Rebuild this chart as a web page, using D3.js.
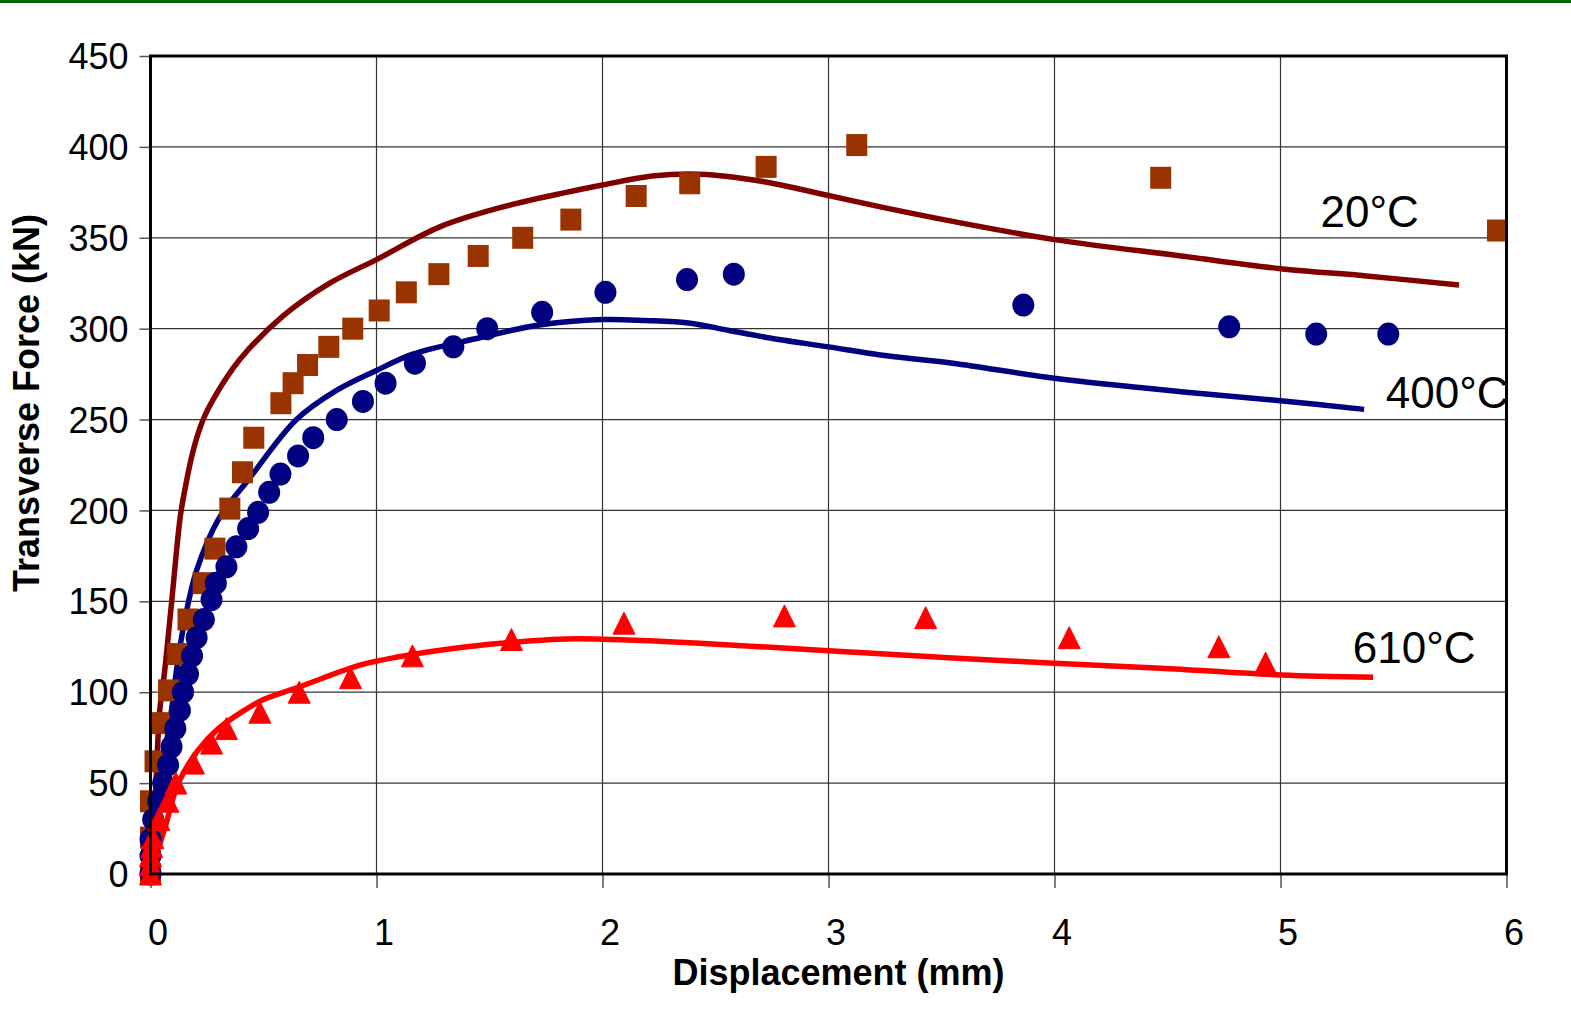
<!DOCTYPE html>
<html>
<head>
<meta charset="utf-8">
<script src="https://cdn.jsdelivr.net/npm/d3@7/dist/d3.min.js"></script>
<style>
  html, body { margin: 0; padding: 0; background: #fff; }
  svg { display: block; font-family: "Liberation Sans", Arial, sans-serif; }
</style>
</head>
<body>
<svg id="chart" width="1571" height="1019"></svg>
<script>
// Axis ticks
const xTicks = [0, 1, 2, 3, 4, 5, 6];
const yTicks = [0, 50, 100, 150, 200, 250, 300, 350, 400, 450];

// Test results (markers)
const test20X  = [0, 0, 0, 0.02, 0.04, 0.08, 0.12, 0.166, 0.233, 0.285, 0.351, 0.407, 0.457, 0.577, 0.631, 0.695, 0.789, 0.895, 1.012, 1.132, 1.276, 1.45, 1.647, 1.86, 2.149, 2.386, 2.724, 3.125, 4.47, 5.96];
const test20Y  = [0, 20, 40, 62, 83, 101, 121, 140, 160, 179, 201, 221, 240, 259, 270, 280, 290, 300, 310, 320, 330, 340, 350, 360, 373, 380, 389, 401, 383, 354];

const test400X = [0, 0, 0, 0.012, 0.034, 0.056, 0.078, 0.093, 0.11, 0.13, 0.144, 0.166, 0.184, 0.204, 0.236, 0.27, 0.289, 0.336, 0.38, 0.432, 0.476, 0.525, 0.575, 0.653, 0.72, 0.824, 0.94, 1.04, 1.17, 1.34, 1.49, 1.733, 2.013, 2.374, 2.581, 3.862, 4.773, 5.158, 5.477];
const test400Y = [0, 10, 19, 30, 40, 50, 60, 70, 80, 90, 100, 110, 120, 130, 140, 151, 160, 169, 180, 190, 199, 210, 220, 230, 240, 250, 260, 270, 281, 290, 300, 309, 320, 327, 330, 313, 301, 297, 297];

const test610X = [0, 0, 0, 0.005, 0.01, 0.037, 0.077, 0.112, 0.19, 0.27, 0.336, 0.484, 0.658, 0.885, 1.159, 1.597, 2.095, 2.805, 3.43, 4.065, 4.727, 4.934];
const test610Y = [0, 5, 10, 15, 20, 30, 40, 50, 61, 72, 80, 89, 100, 108, 120, 129, 138, 142, 141, 130, 125, 116];

// Model curves (lines)
const model20X  = [0, 0.02, 0.041, 0.063, 0.093, 0.13, 0.144, 0.189, 0.233, 0.277, 0.395, 0.587, 0.793, 1.0, 1.28, 1.56, 1.84, 2.0, 2.22, 2.43, 2.71, 2.99, 3.23, 3.55, 4.0, 4.56, 5.0, 5.38, 5.79];
const model20Y  = [0, 40, 90, 112, 149, 195, 206, 233, 250, 261, 283, 307, 325, 338, 356, 367, 375, 379, 384, 385, 381, 373.5, 367, 359, 349, 340, 333, 329, 324];

const model400X = [0, 0.03, 0.093, 0.115, 0.152, 0.204, 0.3, 0.44, 0.646, 0.823, 1.0, 1.16, 1.457, 1.72, 2.0, 2.19, 2.39, 2.56, 2.78, 3.0, 3.23, 3.55, 4.0, 4.56, 5.0, 5.37];
const model400Y = [0, 40, 90, 112, 140, 167, 195, 218, 250, 266, 277, 286, 295, 302, 305, 304.5, 303, 299, 294, 290, 285.5, 281, 272.7, 265.3, 260.4, 255.6];

const model610X = [0, 0.065, 0.123, 0.21, 0.30, 0.415, 0.50, 0.66, 0.93, 1.10, 1.40, 1.69, 1.84, 2.0, 2.21, 2.43, 3.0, 3.57, 4.0, 4.47, 5.0, 5.41];
const model610Y = [0, 26, 50, 68, 80, 90, 96, 103, 115, 119.5, 125, 128.3, 129.3, 129.2, 128.3, 127, 122.8, 118.7, 116, 113.2, 109.5, 108.2];

// Temperature labels and where they sit (data units)
const tempLabels = ["20°C", "400°C", "610°C"];
const tempLabelX = [5.177, 5.466, 5.32];
const tempLabelY = [355.8, 256.2, 115.9];

const xTitle = "Displacement (mm)";
const yTitle = "Transverse Force (kN)";

const zip = (xs, ys) => xs.map((x, i) => [x, ys[i]]);

const svg = d3.select("#chart");
const W = 1571, H = 1019;
const plot = { left: 150.5, right: 1506.5, top: 56, bottom: 874 };

const x = d3.scaleLinear().domain([0, 6]).range([plot.left, plot.right]);
const y = d3.scaleLinear().domain([0, 450]).range([plot.bottom, plot.top]);

// Green rule across the top of the page
svg.append("rect").attr("x", 0).attr("y", 0).attr("width", W).attr("height", 3).attr("fill", "#006400");

// Gridlines
const grid = svg.append("g");
grid.selectAll("line.h").data(yTicks).join("line")
  .attr("x1", plot.left).attr("x2", plot.right)
  .attr("y1", d => y(d)).attr("y2", d => y(d))
  .attr("stroke", "#333").attr("stroke-width", 1.2);
grid.selectAll("line.v").data(xTicks).join("line")
  .attr("y1", plot.top).attr("y2", plot.bottom)
  .attr("x1", d => x(d)).attr("x2", d => x(d))
  .attr("stroke", "#333").attr("stroke-width", 1.2);

// Axes
const yAxis = d3.axisLeft(y).tickValues(yTicks).tickSize(11).tickPadding(10).tickFormat(d3.format("d"));
const xAxis = d3.axisBottom(x).tickValues(xTicks).tickSize(14).tickPadding(0).tickFormat(d3.format("d"));

const gy = svg.append("g").attr("transform", `translate(${plot.left},0)`).call(yAxis);
gy.select(".domain").remove();
gy.selectAll(".tick line").attr("stroke", "#555").attr("stroke-width", 1.5);
gy.selectAll(".tick text")
  .attr("font-size", 36).attr("fill", "#000")
  .attr("font-family", "'Liberation Sans', Arial, sans-serif")
  .attr("dy", "0.35em").attr("x", -22);

const gx = svg.append("g").attr("transform", `translate(0,${plot.bottom})`).call(xAxis);
gx.select(".domain").remove();
gx.selectAll(".tick line").attr("stroke", "#555").attr("stroke-width", 1.5);
gx.selectAll(".tick text")
  .attr("font-size", 36).attr("fill", "#000")
  .attr("font-family", "'Liberation Sans', Arial, sans-serif")
  .attr("y", 71).attr("dy", 0).attr("x", 7);

// Model curves
const line = d3.line().x(d => x(d[0])).y(d => y(d[1])).curve(d3.curveCatmullRom.alpha(0.5));
const curves = [
  { pts: zip(model20X, model20Y), color: "#800000" },
  { pts: zip(model400X, model400Y), color: "#000080" },
  { pts: zip(model610X, model610Y), color: "#ff0000" }
];
svg.append("g").selectAll("path").data(curves).join("path")
  .attr("d", d => line(d.pts))
  .attr("fill", "none")
  .attr("stroke", d => d.color)
  .attr("stroke-width", 5.5)
  .attr("stroke-linejoin", "round");

// Test markers: squares (20°C), circles (400°C), triangles (610°C)
const sq = 21;
svg.append("g").selectAll("rect").data(zip(test20X, test20Y)).join("rect")
  .attr("x", d => x(d[0]) - sq / 2).attr("y", d => y(d[1]) - sq / 2 - 0.5)
  .attr("width", sq).attr("height", sq + 1)
  .attr("fill", "#993300");

svg.append("g").selectAll("ellipse").data(zip(test400X, test400Y)).join("ellipse")
  .attr("cx", d => x(d[0])).attr("cy", d => y(d[1]))
  .attr("rx", 11).attr("ry", 11.5)
  .attr("fill", "#000080");

// Triangle marker, 22 wide by 22 tall, centred on its box
const triPath = "M0,-11L11,11L-11,11Z";
svg.append("g").selectAll("path").data(zip(test610X, test610Y)).join("path")
  .attr("d", triPath)
  .attr("transform", d => `translate(${x(d[0])},${y(d[1])})`)
  .attr("fill", "#ff0000")
  .attr("stroke", "#ff0000").attr("stroke-width", 1).attr("stroke-linejoin", "round");

// Plot frame
svg.append("rect")
  .attr("x", plot.left).attr("y", plot.top)
  .attr("width", plot.right - plot.left).attr("height", plot.bottom - plot.top)
  .attr("fill", "none").attr("stroke", "#000").attr("stroke-width", 3);

// Temperature labels
svg.append("g").selectAll("text").data(tempLabels).join("text")
  .attr("x", (d, i) => x(tempLabelX[i]))
  .attr("y", (d, i) => y(tempLabelY[i]))
  .attr("font-size", 44).attr("fill", "#000")
  .text(d => d);

// Axis titles
svg.append("text")
  .attr("x", (plot.left + plot.right) / 2 + 10).attr("y", 985)
  .attr("text-anchor", "middle").attr("font-size", 36).attr("font-weight", "bold")
  .text(xTitle);

svg.append("text")
  .attr("transform", `translate(39,${(plot.top + plot.bottom) / 2 - 62}) rotate(-90)`)
  .attr("text-anchor", "middle").attr("font-size", 36).attr("font-weight", "bold")
  .text(yTitle);
</script>
</body>
</html>
